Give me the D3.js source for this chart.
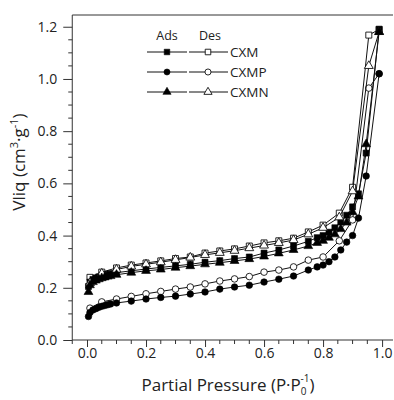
<!DOCTYPE html>
<html><head><meta charset="utf-8">
<script src="https://cdn.jsdelivr.net/npm/d3@7"></script>
<style>body{margin:0;background:#fff}svg{display:block}text{font-family:"Open Sans",sans-serif;fill:#222}</style>
</head><body><svg id="c" width="394" height="400"></svg>
<script>
const adsP = [0.005,0.01,0.02,0.03,0.04,0.05,0.06,0.07,0.08,0.1,0.15,0.2,0.25,0.3,0.35,0.4,0.45,0.5,0.55,0.6,0.65,0.7,0.75,0.78,0.8,0.82,0.84,0.86,0.88,0.9,0.92,0.946,0.99];
const desP = [0.99,0.955,0.9,0.855,0.8,0.75,0.7,0.65,0.6,0.55,0.5,0.45,0.4,0.35,0.3,0.25,0.2,0.15,0.1,0.05,0.01];
const cxmAds  = [0.205,0.222,0.232,0.238,0.242,0.246,0.249,0.252,0.254,0.258,0.265,0.272,0.278,0.284,0.29,0.298,0.304,0.312,0.318,0.333,0.345,0.36,0.378,0.392,0.40,0.413,0.43,0.452,0.478,0.51,0.56,0.716,1.19];
const cxmDes  = [1.19,1.168,0.585,0.486,0.44,0.414,0.39,0.38,0.372,0.36,0.349,0.341,0.333,0.318,0.312,0.303,0.295,0.287,0.276,0.26,0.24];
const cxmpAds = [0.09,0.105,0.115,0.12,0.125,0.129,0.132,0.135,0.138,0.142,0.149,0.157,0.163,0.168,0.176,0.184,0.195,0.203,0.21,0.222,0.233,0.245,0.268,0.28,0.287,0.30,0.318,0.345,0.375,0.40,0.467,0.628,1.02];
const cxmpDes = [1.02,0.965,0.46,0.38,0.318,0.306,0.28,0.268,0.26,0.243,0.234,0.226,0.215,0.203,0.195,0.186,0.177,0.167,0.157,0.146,0.122];
const cxmnAds = [0.184,0.21,0.222,0.228,0.233,0.237,0.24,0.243,0.245,0.25,0.258,0.265,0.27,0.277,0.283,0.29,0.296,0.303,0.31,0.32,0.332,0.345,0.36,0.372,0.38,0.392,0.405,0.425,0.45,0.49,0.55,0.75,1.18];
const cxmnDes = [1.18,1.05,0.57,0.47,0.43,0.405,0.383,0.372,0.362,0.352,0.342,0.334,0.326,0.316,0.307,0.298,0.29,0.282,0.27,0.255,0.218];
const xTicks = [0.0,0.2,0.4,0.6,0.8,1.0];
const yTicks = [0.0,0.2,0.4,0.6,0.8,1.0,1.2];
const seriesNames = ["CXM","CXMP","CXMN"];
const shapes = ["square","circle","triangle"];

const svg = d3.select("#c");
const x = d3.scaleLinear().domain([-0.05, 1.037]).range([72.25, 393]);
const y = d3.scaleLinear().domain([0, 1.245]).range([340, 15]);
const x0 = x(-0.05);

const series = [
  {name:seriesNames[0], shape:shapes[0], ads:cxmAds, des:cxmDes},
  {name:seriesNames[1], shape:shapes[1], ads:cxmpAds, des:cxmpDes},
  {name:seriesNames[2], shape:shapes[2], ads:cxmnAds, des:cxmnDes}
];

const symType = {square:d3.symbolSquare, circle:d3.symbolCircle, triangle:d3.symbolTriangle};
const symSize = {square:36, circle:34, triangle:34};
function sym(s, k){ return d3.symbol().type(symType[s]).size(symSize[s]*(k||1))(); }

// frame
svg.append("path").attr("d",`M${x0},${y(0)+4}V${y(1.245)}H393`).attr("fill","none").attr("stroke","#333").attr("stroke-width",1);
svg.append("line").attr("x1",x0).attr("x2",393).attr("y1",y(0)).attr("y2",y(0)).attr("stroke","#333");

// x ticks
const xAxis = d3.axisBottom(x).tickValues(xTicks).tickFormat(d3.format(".1f")).tickSize(7).tickPadding(1);
const gx = svg.append("g").attr("transform",`translate(0,${y(0)})`).call(xAxis);
gx.select(".domain").remove();
gx.selectAll("text").attr("font-size",14).attr("font-family","Open Sans").attr("fill","#222");
gx.selectAll("line").attr("stroke","#333");
const xMinor = d3.range(-0.05,1.04,0.05).filter(v=>Math.abs(v/0.2-Math.round(v/0.2))>0.01 && v>-0.04);
svg.append("g").selectAll("line").data(xMinor).join("line")
  .attr("x1",d=>x(d)).attr("x2",d=>x(d)).attr("y1",y(0)).attr("y2",y(0)+4).attr("stroke","#333");

// y ticks
const yAxis = d3.axisLeft(y).tickValues(yTicks).tickFormat(d3.format(".1f")).tickSize(9).tickPadding(6);
const gy = svg.append("g").attr("transform",`translate(${x0},0)`).call(yAxis);
gy.select(".domain").remove();
gy.selectAll("text").attr("font-size",14).attr("font-family","Open Sans").attr("fill","#222");
gy.selectAll("line").attr("stroke","#333");
const yMinor = d3.range(0.05,1.245,0.05).filter(v=>Math.abs(v/0.2-Math.round(v/0.2))>0.01);
svg.append("g").selectAll("line").data(yMinor).join("line")
  .attr("x1",x0-4).attr("x2",x0).attr("y1",d=>y(d)).attr("y2",d=>y(d)).attr("stroke","#333");

// data
const line = d3.line().x(d=>x(d[0])).y(d=>y(d[1]));
const plot = svg.append("g");
series.forEach(s=>{
  const a = adsP.map((p,i)=>[p,s.ads[i]]);
  const d = desP.map((p,i)=>[p,s.des[i]]);
  plot.append("path").attr("d",line(a)).attr("fill","none").attr("stroke","#111").attr("stroke-width",1);
  plot.append("path").attr("d",line(d)).attr("fill","none").attr("stroke","#111").attr("stroke-width",1);
  plot.append("g").selectAll("path").data(d).join("path")
    .attr("d",sym(s.shape)).attr("transform",p=>`translate(${x(p[0])},${y(p[1])})`)
    .attr("fill","#fff").attr("stroke","#111").attr("stroke-width",0.9);
  plot.append("g").selectAll("path").data(a).join("path")
    .attr("d",sym(s.shape)).attr("transform",p=>`translate(${x(p[0])},${y(p[1])})`)
    .attr("fill","#000").attr("stroke","#000").attr("stroke-width",0.6);
});

// legend
const lg = svg.append("g");
lg.append("text").attr("x",167).attr("y",40).attr("text-anchor","middle").attr("font-size",12.5).text("Ads");
lg.append("text").attr("x",210).attr("y",40).attr("text-anchor","middle").attr("font-size",12.5).text("Des");
series.forEach((s,i)=>{
  const yy = 52 + i*20;
  lg.append("line").attr("x1",147).attr("x2",187).attr("y1",yy).attr("y2",yy).attr("stroke","#111");
  lg.append("line").attr("x1",189).attr("x2",228).attr("y1",yy).attr("y2",yy).attr("stroke","#111");
  lg.append("path").attr("d",sym(s.shape,0.85)).attr("transform",`translate(167,${yy})`).attr("fill","#000").attr("stroke","#000").attr("stroke-width",0.6);
  lg.append("path").attr("d",sym(s.shape,0.85)).attr("transform",`translate(208,${yy})`).attr("fill","#fff").attr("stroke","#111").attr("stroke-width",0.9);
  lg.append("text").attr("x",230).attr("y",yy+5).attr("font-size",13.5).text(s.name);
});

// axis titles
const xt = svg.append("text").attr("x",228).attr("y",391).attr("text-anchor","middle").attr("font-size",17);
xt.append("tspan").text("Partial Pressure (P·P");
xt.append("tspan").attr("font-size",10).attr("dy",4).text("0");
xt.append("tspan").attr("font-size",10).attr("dx",-6).attr("dy",-13).text("-1");
xt.append("tspan").attr("dy",9).text(")");

const yt = svg.append("text").attr("transform","translate(25,162) rotate(-90)").attr("text-anchor","middle").attr("font-size",17);
yt.append("tspan").text("Vliq (cm");
yt.append("tspan").attr("font-size",11).attr("dy",-7).text("3");
yt.append("tspan").attr("dy",7).text("·g");
yt.append("tspan").attr("font-size",11).attr("dy",-7).text("-1");
yt.append("tspan").attr("dy",7).text(")");
</script></body></html>
